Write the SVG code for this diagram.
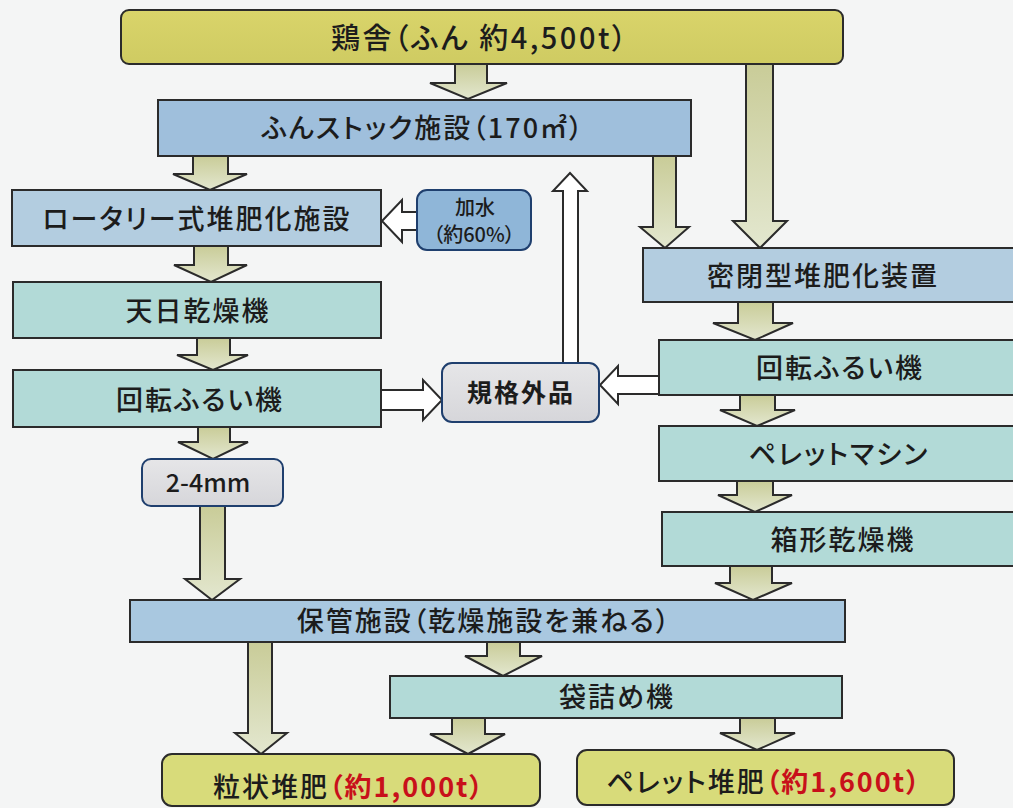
<svg xmlns="http://www.w3.org/2000/svg" width="1013" height="808" viewBox="0 0 1013 808">
<defs>
<linearGradient id="ag" x1="0" y1="0" x2="0" y2="1">
<stop offset="0" stop-color="#c9cc98"/>
<stop offset="1" stop-color="#e3e7cf"/>
</linearGradient>
<linearGradient id="gy" x1="0" y1="0" x2="0" y2="1">
<stop offset="0" stop-color="#d9d46a"/>
<stop offset="1" stop-color="#cfcb62"/>
</linearGradient>
<linearGradient id="gg" x1="0" y1="0" x2="0" y2="1">
<stop offset="0" stop-color="#e6e6e8"/>
<stop offset="1" stop-color="#d6d6da"/>
</linearGradient>
<style>
.bx{stroke:#2b2b2b;stroke-width:2}
.yl{fill:url(#gy)}
.yl2{fill:#d8db7a}
.bl{fill:#9fbfdc}
.bl2{fill:#b3cde0}
.bl3{fill:#a9c8e0}
.tl{fill:#b2dad7}
.gr{fill:url(#gg);stroke:#1f3f6e;stroke-width:2}
.wt{fill:#8fb6d8;stroke:#1f3f6e;stroke-width:2}
.ar{fill:url(#ag);stroke:#2b2b2b;stroke-width:2;stroke-linejoin:miter}
.ho{fill:#ffffff;stroke:#2b2b2b;stroke-width:2}
text{font-family:"Noto Sans CJK JP","Noto Sans",sans-serif;fill:#1c1c1c;text-anchor:middle;font-weight:500;font-feature-settings:"palt"}
.t{font-size:27px;letter-spacing:2px}
.s{font-size:20px}
.b{font-weight:bold}
.r{fill:#c8101a;font-weight:bold}
</style>
</defs>
<rect x="0" y="0" width="1013" height="808" fill="#f4f5f5"/>

<g id="connectors">
<path class="ar" d="M455,64 L455,83 L430,83 L468,99 L507,83 L487,83 L487,64"/>
<path class="ar" d="M193,156 L193,174 L173,174 L210,190 L247,174 L228,174 L228,156"/>
<path class="ar" d="M194,246 L194,265 L174,265 L211,282 L247,265 L228,265 L228,246"/>
<path class="ar" d="M197,338 L197,355 L177,355 L213,370 L248,355 L230,355 L230,338"/>
<path class="ar" d="M198,427 L198,442 L178,442 L213,459 L248,442 L230,442 L230,427"/>
<path class="ar" d="M200,506 L200,579 L185,579 L212,600 L240,579 L225,579 L225,506"/>
<path class="ar" d="M653,156 L653,227 L640,227 L665,248 L689,227 L676,227 L676,156"/>
<path class="ar" d="M746,64 L746,221 L733,221 L760,248 L787,221 L773,221 L773,64"/>
<path class="ar" d="M738,302 L738,323 L713,323 L755,340 L793,323 L773,323 L773,302"/>
<path class="ar" d="M740,395 L740,410 L720,410 L757,426 L795,410 L775,410 L775,395"/>
<path class="ar" d="M737,481 L737,495 L718,495 L755,512 L792,495 L773,495 L773,481"/>
<path class="ar" d="M730,566 L730,583 L715,583 L753,600 L792,583 L772,583 L772,566"/>
<path class="ar" d="M487,642 L487,656 L465,656 L503,676 L542,656 L520,656 L520,642"/>
<path class="ar" d="M248,642 L248,733 L235,733 L261,754 L287,733 L272,733 L272,642"/>
<path class="ar" d="M452,718 L452,734 L430,734 L468,754 L505,734 L485,734 L485,718"/>
<path class="ar" d="M740,718 L740,733 L720,733 L757,750 L795,733 L775,733 L775,718"/>
<path class="ho" d="M418,212 L402,212 L402,200 L382,221 L402,242 L402,230 L418,230"/>
<path class="ho" d="M381,390 L423,390 L423,380 L442,400 L423,420 L423,410 L381,410"/>
<path class="ho" d="M659,376 L618,376 L618,366 L600,385 L618,404 L618,394 L659,394"/>
<path class="ho" d="M563,363 L563,191 L553,191 L570,173 L587,191 L578,191 L578,363"/>
</g>

<g id="n-keisha"><rect class="bx yl" x="121" y="10" width="722" height="54" rx="8"/><text x="480" y="49" style="font-size:29px;letter-spacing:2.5px">鶏舎（ふん 約4,500t）</text></g>
<g id="n-stock"><rect class="bx bl" x="158" y="100" width="533" height="56"/><text class="t" x="423" y="138">ふんストック施設（170㎡）</text></g>
<g id="n-rotary"><rect class="bx bl2" x="12" y="190" width="369" height="56"/><text class="t" x="197" y="229">ロータリー式堆肥化施設</text></g>
<g id="n-kasui"><rect class="wt" x="417" y="190" width="114" height="60" rx="10"/><text class="s" x="475" y="215">加水</text><text class="s" x="474" y="242">（約60%）</text></g>
<g id="n-tenpi"><rect class="bx tl" x="13" y="282" width="368" height="56"/><text class="t" x="198" y="321">天日乾燥機</text></g>
<g id="n-kaiten1"><rect class="bx tl" x="13" y="370" width="368" height="57"/><text class="t" x="200" y="410">回転ふるい機</text></g>
<g id="n-size"><rect class="gr" x="142" y="459" width="141" height="47" rx="9"/><text x="208" y="492" style="font-size:25px">2-4mm</text></g>
<g id="n-kikaku"><rect class="gr" x="442" y="363" width="157" height="59" rx="10"/><text class="b" x="521" y="402" style="font-size:25px;letter-spacing:2px">規格外品</text></g>
<g id="n-mippei"><rect class="bx bl2" x="643" y="248" width="380" height="54"/><text class="t" x="823" y="286">密閉型堆肥化装置</text></g>
<g id="n-kaiten2"><rect class="bx tl" x="659" y="340" width="364" height="55"/><text class="t" x="840" y="378">回転ふるい機</text></g>
<g id="n-pellet"><rect class="bx tl" x="659" y="426" width="364" height="55"/><text class="t" x="839" y="464">ペレットマシン</text></g>
<g id="n-hako"><rect class="bx tl" x="662" y="512" width="361" height="54"/><text class="t" x="843" y="550">箱形乾燥機</text></g>
<g id="n-hokan"><rect class="bx bl3" x="130" y="600" width="715" height="42"/><text class="t" x="484" y="631">保管施設（乾燥施設を兼ねる）</text></g>
<g id="n-fukuro"><rect class="bx tl" x="390" y="676" width="452" height="42"/><text class="t" x="617" y="707">袋詰め機</text></g>
<g id="n-ryujo"><rect class="bx yl2" x="162" y="754" width="378" height="52" rx="10"/><text class="t" x="349" y="797">粒状堆肥<tspan class="r">（約1,000t）</tspan></text></g>
<g id="n-pelletc"><rect class="bx yl2" x="577" y="750" width="377" height="55" rx="10"/><text class="t" x="764" y="792">ペレット堆肥<tspan class="r">（約1,600t）</tspan></text></g>
</svg>
